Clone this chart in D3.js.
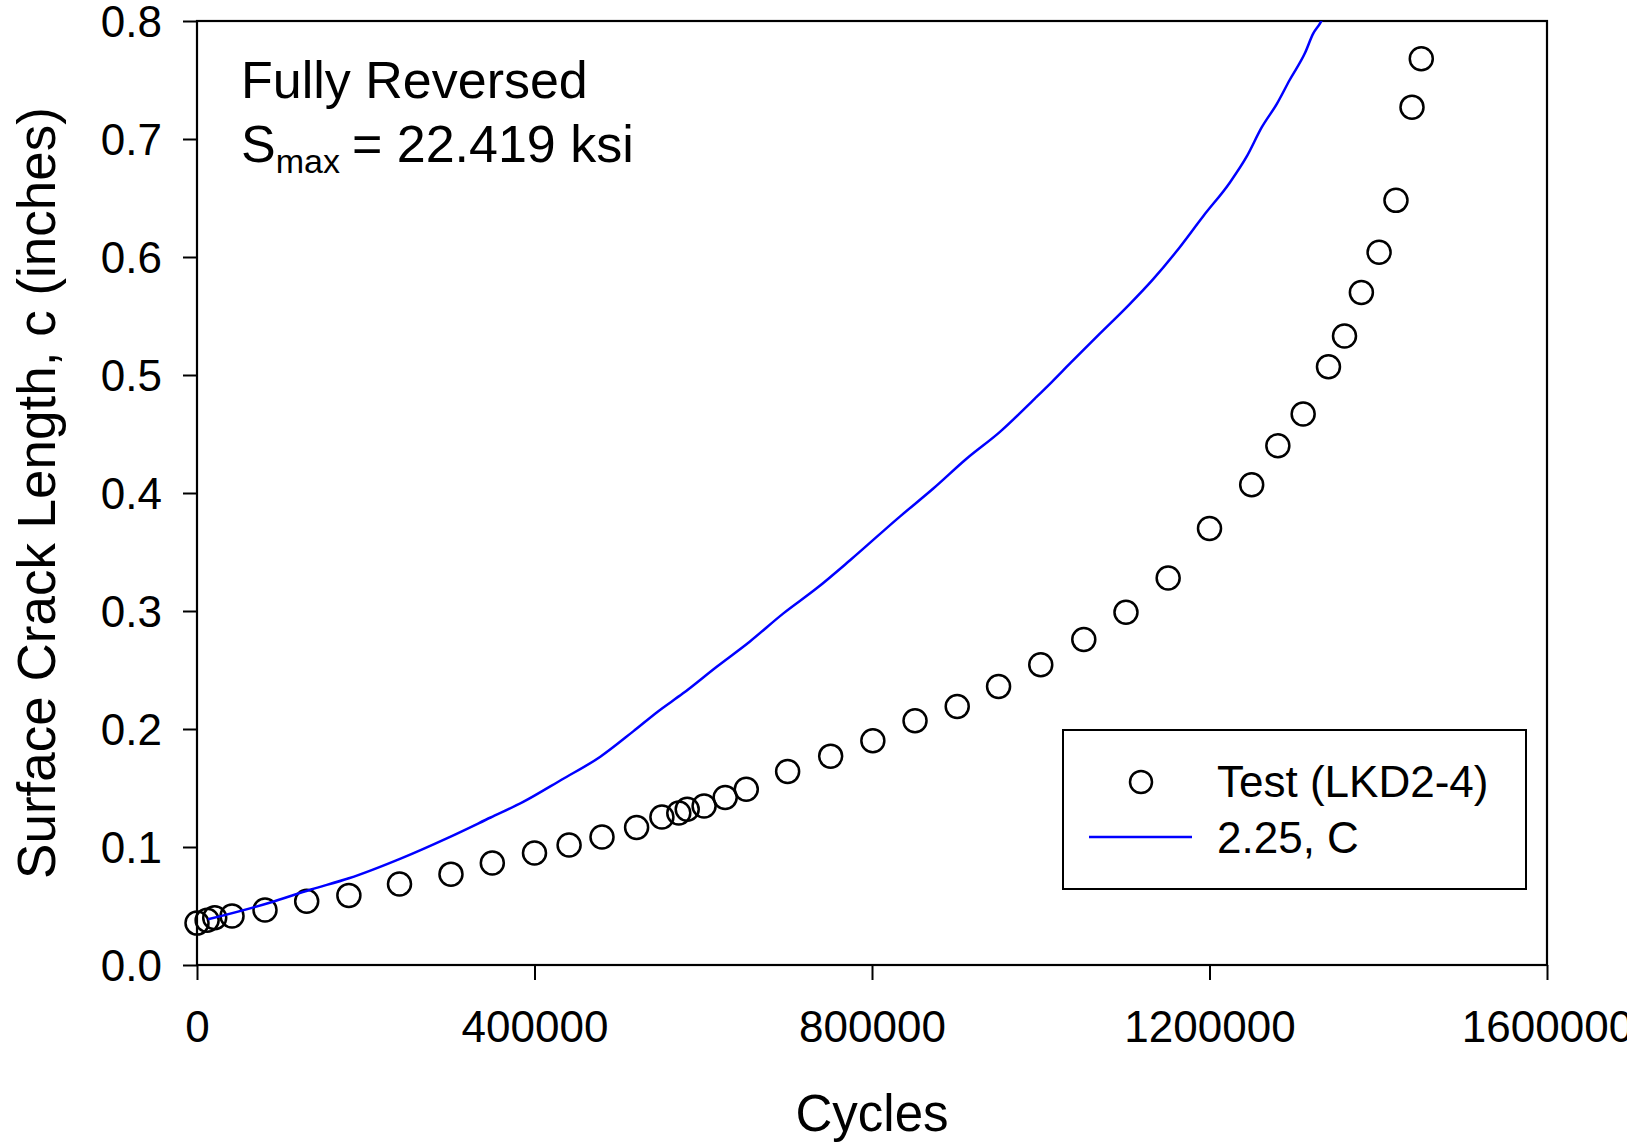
<!DOCTYPE html>
<html>
<head>
<meta charset="utf-8">
<script src="https://cdn.jsdelivr.net/npm/d3@7"></script>
<style>
  body { margin: 0; background: #fff; }
  svg { display: block; font-family: "Liberation Sans", Arial, sans-serif; }
</style>
</head>
<body>
<script>
var w = 1627;
var h = 1142;

// Test points (LKD2-4)
var testCycles = [0, 12000, 21000, 41500, 80600, 130000, 180000, 240000, 301000, 350000,
  400000, 441000, 480000, 521000, 551000, 571000, 581000, 601000, 626000, 651000,
  700000, 751000, 801000, 851000, 901000, 950000, 1000000, 1051000, 1101000, 1151000,
  1200000, 1250000, 1281000, 1311000, 1341000, 1360000, 1380000, 1401000, 1421000, 1440000, 1451000];
var testCrack = [0.0355, 0.038, 0.040, 0.0415, 0.0466, 0.054, 0.059, 0.0686, 0.077, 0.0864,
  0.095, 0.1017, 0.1085, 0.1165, 0.1254, 0.1288, 0.132, 0.1347, 0.142, 0.149,
  0.164, 0.177, 0.190, 0.207, 0.219, 0.236, 0.2545, 0.2758, 0.299, 0.328,
  0.370, 0.407, 0.440, 0.467, 0.507, 0.533, 0.570, 0.604, 0.648, 0.727, 0.768];

// Prediction curve (2.25, C)
var modelCycles = [13000, 85000, 135000, 180000, 242000, 298000, 348000, 386000, 432000, 478000,
  517000, 546000, 576000, 616000, 655000, 695000, 734000, 774000, 833000, 873000,
  912000, 952000, 993000, 1013000, 1035000, 1070000, 1104000, 1133000, 1160000, 1193000,
  1224000, 1244000, 1262000, 1280000, 1295000, 1313000, 1323000, 1331000, 1336000];
var modelCrack = [0.0387, 0.0525, 0.064, 0.0735, 0.0904, 0.108, 0.125, 0.138, 0.157, 0.1765,
  0.198, 0.2147, 0.2302, 0.2528, 0.274, 0.298, 0.319, 0.343, 0.380, 0.404,
  0.429, 0.452, 0.480, 0.494, 0.510, 0.535, 0.559, 0.581, 0.604, 0.635,
  0.663, 0.685, 0.710, 0.730, 0.750, 0.7726, 0.7895, 0.798, 0.805];

var xTicks = [0, 400000, 800000, 1200000, 1600000];
var yTicks = [0, 0.1, 0.2, 0.3, 0.4, 0.5, 0.6, 0.7, 0.8];
var legendLabels = ["Test (LKD2-4)", "2.25, C"];

var plot = { left: 197, top: 21, width: 1350, height: 944 };

var svg = d3.select("body").append("svg")
  .attr("width", w)
  .attr("height", h);

var x = d3.scaleLinear().domain([0, 1600000]).range([0, plot.width]);
var y = d3.scaleLinear().domain([0, 0.8]).range([plot.height, 0]);

var g = svg.append("g")
  .attr("transform", "translate(" + [plot.left, plot.top] + ")");

svg.append("clipPath").attr("id", "clip")
  .append("rect")
  .attr("x", plot.left).attr("y", plot.top)
  .attr("width", plot.width).attr("height", plot.height);

/**
 * Draws both axes and the frame around the plot.
 */
function drawAxes() {
  var xAxis = g.append("g")
    .attr("transform", "translate(0," + plot.height + ")")
    .call(d3.axisBottom(x).tickValues(xTicks).tickSize(15).tickSizeOuter(0).tickFormat(d3.format("d")));

  xAxis.selectAll("text")
    .attr("y", 77).attr("dy", 0)
    .style("font-size", "44px").attr("fill", "#000");

  var yAxis = g.append("g")
    .call(d3.axisLeft(y).tickValues(yTicks).tickSize(14).tickSizeOuter(0).tickFormat(d3.format(".1f")));

  yAxis.selectAll("text")
    .attr("x", -35).attr("dy", "0.36em")
    .style("font-size", "44px").attr("fill", "#000");

  g.selectAll(".domain").remove();
  g.selectAll(".tick line").attr("stroke", "#000").attr("stroke-width", 2);

  // Frame
  g.append("rect")
    .attr("width", plot.width)
    .attr("height", plot.height)
    .attr("fill", "none")
    .attr("stroke", "#000")
    .attr("stroke-width", 2.2);

  // Axis titles
  svg.append("text")
    .attr("x", plot.left + plot.width / 2)
    .attr("y", 1131)
    .attr("text-anchor", "middle")
    .style("font-size", "51px")
    .text("Cycles");

  svg.append("text")
    .attr("transform", "translate(55," + (plot.top + plot.height / 2) + ") rotate(-90)")
    .attr("text-anchor", "middle")
    .style("font-size", "53px")
    .text("Surface Crack Length, c (inches)");
}

/**
 * Draws the prediction curve and the test markers.
 */
function drawData() {
  var line = d3.line()
    .x(d => plot.left + x(d[0]))
    .y(d => plot.top + y(d[1]))
    .curve(d3.curveMonotoneX);

  svg.append("path")
    .datum(d3.zip(modelCycles, modelCrack))
    .attr("clip-path", "url(#clip)")
    .attr("d", line)
    .attr("fill", "none")
    .attr("stroke", "#0000ff")
    .attr("stroke-width", 2.5);

  g.selectAll("circle.test")
    .data(d3.zip(testCycles, testCrack))
    .enter().append("circle")
    .attr("class", "test")
    .attr("cx", d => x(d[0]))
    .attr("cy", d => y(d[1]))
    .attr("r", 11.5)
    .attr("fill", "none")
    .attr("stroke", "#000")
    .attr("stroke-width", 2.5);
}

/**
 * Draws the annotation in the upper left corner.
 */
function drawNote() {
  svg.append("text")
    .attr("x", 241).attr("y", 98)
    .style("font-size", "52px")
    .text("Fully Reversed");

  var note = svg.append("text")
    .attr("x", 241).attr("y", 162)
    .style("font-size", "52px");
  note.append("tspan").text("S");
  note.append("tspan").attr("dy", 11).style("font-size", "34px").text("max");
  note.append("tspan").attr("dy", -11).attr("dx", 12).text("= 22.419 ksi");
}

/**
 * Draws the legend box.
 */
function drawLegend() {
  var legend = svg.append("g")
    .attr("transform", "translate(" + [1063, 730] + ")");

  legend.append("rect")
    .attr("width", 463).attr("height", 159)
    .attr("fill", "#fff")
    .attr("stroke", "#000")
    .attr("stroke-width", 2);

  legend.append("circle")
    .attr("cx", 78).attr("cy", 52)
    .attr("r", 11)
    .attr("fill", "none")
    .attr("stroke", "#000")
    .attr("stroke-width", 2.5);

  legend.append("line")
    .attr("x1", 26).attr("x2", 129)
    .attr("y1", 107).attr("y2", 107)
    .attr("stroke", "#0000ff")
    .attr("stroke-width", 2.5);

  legend.selectAll("text")
    .data(legendLabels)
    .enter().append("text")
    .attr("x", 154)
    .attr("y", (d, i) => 67 + i * 56)
    .style("font-size", "44px")
    .text(d => d);
}

drawAxes();
drawData();
drawNote();
drawLegend();
</script>
</body>
</html>
